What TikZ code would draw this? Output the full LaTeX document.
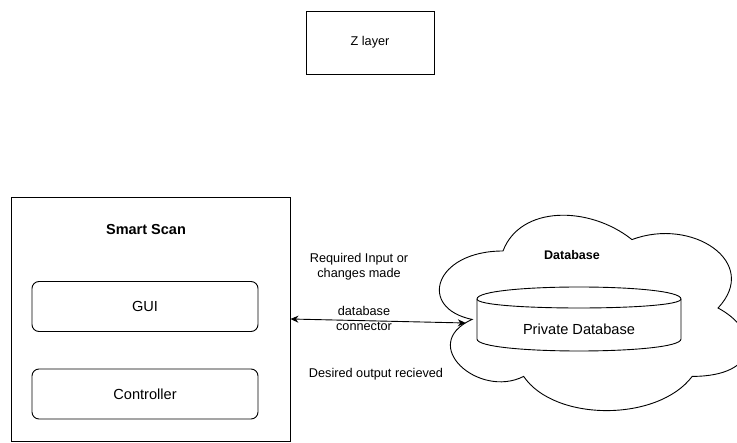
\documentclass[tikz,border=0pt]{standalone}
\usepackage{fontspec}
\setmainfont{Liberation Sans}
\usetikzlibrary{arrows.meta,positioning}

\tikzset{
  plainbox/.style={draw, line width=0.9pt, inner sep=0pt},
  roundbox/.style={draw, line width=0.9pt, rounded corners=7pt, inner sep=0pt,
    minimum width=226pt, minimum height=50pt, font=\fontsize{14.6}{17}\selectfont},
  lbl/.style={inner sep=0pt, align=center, font=\fontsize{12.7}{14.8}\selectfont},
  dblink/.style={line width=0.9pt, {Stealth[length=8pt,width=7pt]}-{Stealth[length=8pt,width=7pt]}}
}

\begin{document}
\begin{tikzpicture}[x=1pt, y=-1pt]
  \useasboundingbox (0,0) rectangle (737,443);
  %draw the cloud
    \begin{scope}[shift={(417,194)}, x=344pt, y=-228pt, line width=0.9pt]
      \draw (0.25,0.25) .. controls (0.05,0.25) and (0,0.5) .. (0.16,0.55)
        .. controls (0,0.66) and (0.18,0.9) .. (0.31,0.8)
        .. controls (0.4,1) and (0.7,1) .. (0.8,0.8)
        .. controls (1,0.8) and (1,0.6) .. (0.875,0.5)
        .. controls (1,0.3) and (0.8,0.1) .. (0.625,0.2)
        .. controls (0.5,0.05) and (0.3,0.05) .. (0.25,0.25) -- cycle;
    \end{scope}
    \node[lbl, font=\bfseries\fontsize{12.5}{15}\selectfont] (dbcloud) at (572,255) {Database};
  %draw the cylinder
    \node[minimum width=204pt, minimum height=64pt, inner sep=0pt] (privdb) at (579,319) {};
    \draw[line width=0.9pt] (477,299) .. controls (477,283) and (681,283) .. (681,299)
      -- (681,339) .. controls (681,355) and (477,355) .. (477,339) -- cycle;
    \draw[line width=0.9pt] (477,299) .. controls (477,311) and (681,311) .. (681,299);
    \node[lbl, font=\fontsize{14.6}{17}\selectfont] (privdbtext) at (579,329) {Private Database};
  %draw boxes
    \node[plainbox, minimum width=128pt, minimum height=63pt, font=\fontsize{12.7}{15}\selectfont] (zlayer) at (370,42.5) {Z layer};
    \node[plainbox, minimum width=279pt, minimum height=244pt] (scan) at (150.5,319) {};
    \node[lbl, font=\bfseries\fontsize{14.5}{17}\selectfont] (scantitle) at (146,230) {Smart Scan};
    \node[roundbox] (gui) at (145,306.5) {GUI};
    \node[roundbox] (ctrl) at (145,394) {Controller};
  %draw the connector
    \draw[dblink] (scan.east |- privdb.west) -- ([xshift=-11pt,yshift=-4pt]privdb.west);
  %insert connector labels
    \node[lbl] (req) at (359,267) {Required Input or\\changes made};
    \node[lbl] (conn) at (364,318.5) {database\\connector};
    \node[lbl] (desired) at (376,374) {Desired output recieved};
\end{tikzpicture}
\end{document}
